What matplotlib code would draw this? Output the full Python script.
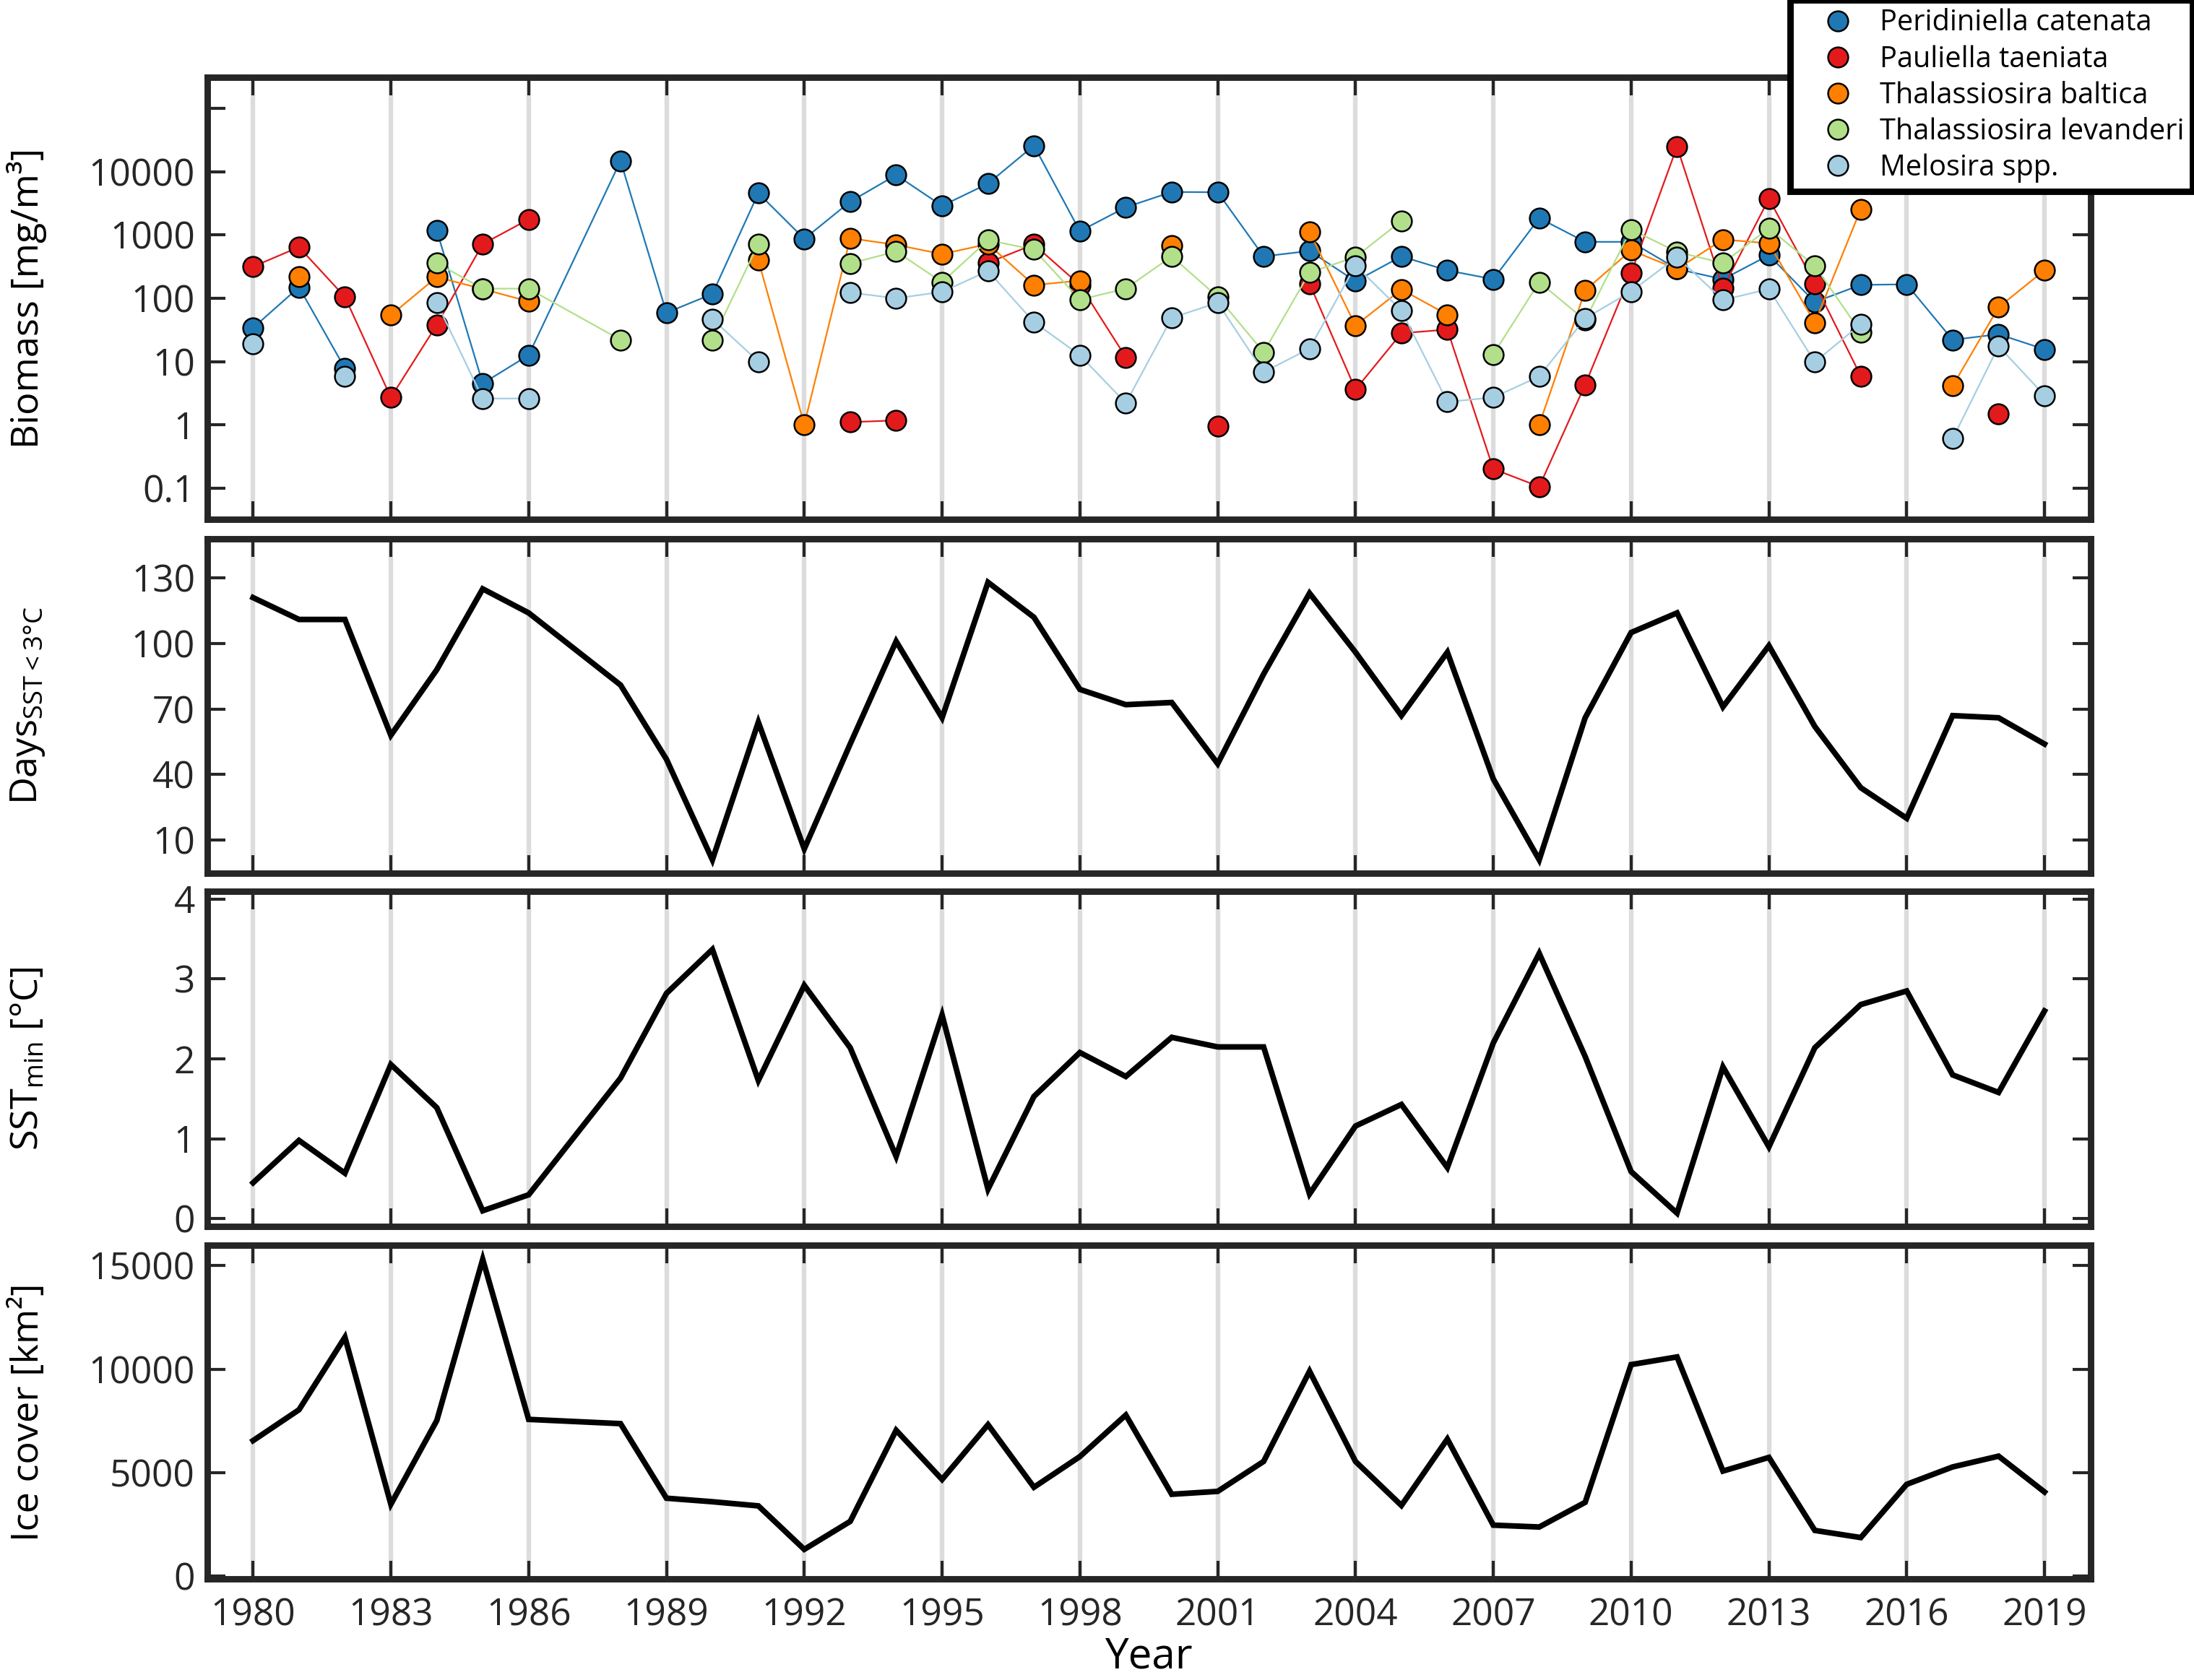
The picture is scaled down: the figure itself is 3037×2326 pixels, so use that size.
import numpy as np
import matplotlib
matplotlib.use("Agg")
import matplotlib.pyplot as plt
from matplotlib.lines import Line2D
from matplotlib.ticker import FixedLocator, FixedFormatter, NullLocator

plt.rcParams["font.family"] = ["Open Sans", "DejaVu Sans"]
plt.rcParams["mathtext.default"] = "regular"

nan = np.nan

# 1987 is absent from the record
years = [1980, 1981, 1982, 1983, 1984, 1985, 1986, 1988, 1989, 1990,
         1991, 1992, 1993, 1994, 1995, 1996, 1997, 1998, 1999, 2000,
         2001, 2002, 2003, 2004, 2005, 2006, 2007, 2008, 2009, 2010,
         2011, 2012, 2013, 2014, 2015, 2016, 2017, 2018, 2019]

# biomass [mg/m3]
peridiniella = [34, 150, 7.8, nan, 1180, 4.5, 12.6, 14900, 59, 117,
                4600, 870, 3370, 8900, 2900, 6500, 26000, 1150, 2750, 4800,
                4750, 460, 560, 186, 460, 276, 200, 1850, 780, 780,
                290, 200, 480, 87, 163, 166, 22, 27, 15.6]
pauliella = [316, 645, 105, 2.7, 38, 720, 1770, nan, nan, nan,
             nan, nan, 1.1, 1.17, nan, 365, 710, 162, 11.7, nan,
             0.96, nan, 170, 3.6, 28, 32, 0.2, 0.105, 4.3, 250,
             25000, 145, 3750, 170, 5.9, nan, nan, 1.5, nan]
th_baltica = [nan, 217, nan, 54, 217, 140, 89, nan, nan, nan,
              400, 1.0, 890, 700, 500, 720, 162, 190, nan, 680,
              nan, nan, 1120, 37, 138, 55, nan, 1.0, 133, 575,
              290, 850, 740, 41, 2570, nan, 4.1, 72, 277]
th_levanderi = [nan, nan, nan, nan, 360, 142, 142, 22, nan, 22,
                720, nan, 355, 550, 180, 830, 590, 95, 142, 460,
                105, 14, 255, 450, 1670, nan, 13, 180, 45, 1230,
                540, 360, 1280, 325, 29, nan, nan, nan, nan]
melosira = [19, nan, 5.8, nan, 85, 2.6, 2.6, nan, nan, 47,
            10, nan, 123, 100, 126, 270, 42, 12.6, 2.2, 49,
            85, 6.8, 16, 330, 64, 2.3, 2.7, 5.8, 48, 128,
            450, 94, 140, 9.8, 39, nan, 0.6, 17.5, 2.9]

days_below3 = [121, 111, 111, 58, 88, 125, 114, 81, 47, 1,
               64, 6, 54, 101, 66, 128, 112, 79, 72, 73,
               45, 86, 123, 96, 67, 96, 38, 1, 66, 105,
               114, 71, 99, 62, 34, 20, 67, 66, 54]
sst_min = [0.45, 0.98, 0.57, 1.93, 1.39, 0.10, 0.30, 1.76, 2.82, 3.37,
           1.73, 2.92, 2.14, 0.78, 2.55, 0.37, 1.53, 2.08, 1.78, 2.27,
           2.15, 2.15, 0.31, 1.16, 1.43, 0.64, 2.20, 3.32, 2.03, 0.59,
           0.07, 1.90, 0.90, 2.14, 2.68, 2.85, 1.80, 1.58, 2.60]
ice_cover = [6550, 8040, 11540, 3480, 7520, 15300, 7575, 7370, 3770, 3600,
             3400, 1300, 2650, 7050, 4675, 7320, 4300, 5780, 7785, 3960,
             4100, 5545, 9900, 5545, 3420, 6625, 2470, 2380, 3570, 10220,
             10590, 5080, 5740, 2215, 1870, 4440, 5280, 5800, 4070]

species = ["Peridiniella catenata", "Pauliella taeniata", "Thalassiosira baltica",
           "Thalassiosira levanderi", "Melosira spp."]
colors = ["#1f78b4", "#e31a1c", "#ff7f00", "#b2df8a", "#a6cee3"]
biomass = [peridiniella, pauliella, th_baltica, th_levanderi, melosira]

xticks = list(range(1980, 2020, 3))
spine_c = "#262626"

fig = plt.figure(figsize=(3037 / 200, 2326 / 200), dpi=200)
left, width = 0.0944, 0.8584
ax1 = fig.add_axes([left, 0.6911, width, 0.2631])
ax2 = fig.add_axes([left, 0.4804, width, 0.1990])
ax3 = fig.add_axes([left, 0.2698, width, 0.1998])
ax4 = fig.add_axes([left, 0.0600, width, 0.1990])
axes = [ax1, ax2, ax3, ax4]

for name, col, vals in zip(species, colors, biomass):
    ax1.plot(years, vals, "-o", color=col, lw=0.8, ms=10,
             mfc=col, mec="black", mew=0.9)
ax1.set_yscale("log")
ax1.set_ylim(10 ** -1.49, 10 ** 5.5)
ax1.yaxis.set_major_locator(FixedLocator([0.1, 1, 10, 100, 1000, 10000, 100000]))
ax1.yaxis.set_major_formatter(FixedFormatter(["0.1", "1", "10", "100", "1000", "10000", ""]))
ax1.yaxis.set_minor_locator(NullLocator())
ax1.set_ylabel("Biomass [mg/m³]")

ax2.plot(years, days_below3, color="black", lw=2.8, solid_joinstyle="miter")
ax2.set_ylim(-5, 148)
ax2.set_yticks([10, 40, 70, 100, 130])
ax2.set_ylabel("Days$_{SST<3°C}$")

ax3.plot(years, sst_min, color="black", lw=2.8, solid_joinstyle="miter")
ax3.set_ylim(-0.1, 4.1)
ax3.set_yticks([0, 1, 2, 3, 4])
ax3.set_ylabel("SST$_{min}$ [°C]")

ax4.plot(years, ice_cover, color="black", lw=2.8, solid_joinstyle="miter")
ax4.set_ylim(-140, 16000)
ax4.set_yticks([0, 5000, 10000, 15000])
ax4.set_ylabel("Ice cover [km²]")

for ax in axes:
    ax.set_xlim(1979, 2020)
    ax.set_xticks(xticks)
    ax.grid(axis="x", color="#dcdcdc", lw=2.3)
    ax.set_axisbelow(True)
    for s in ax.spines.values():
        s.set_linewidth(3.2)
        s.set_color(spine_c)
    ax.tick_params(direction="in", top=True, right=True, length=9, width=1.5,
                   color=spine_c, labelcolor=spine_c, labelsize=18.5)
    ax.tick_params(axis="x", pad=9)
    ax.tick_params(axis="y", pad=6)
    ax.yaxis.label.set_fontsize(18.8)
    ax.yaxis.set_label_coords(-0.085, 0.5)
    if ax is not ax4:
        ax.tick_params(labelbottom=False)

ax4.set_xticklabels([str(y) for y in xticks])
ax4.set_xlabel("Year", fontsize=21, labelpad=1)

handles = [Line2D([], [], ls="none", marker="o", ms=10, mfc=c, mec="black", mew=0.9)
           for c in colors]
leg = fig.legend(handles, species, loc="upper right", bbox_to_anchor=(0.9995, 1.0),
                 fontsize=14.3, frameon=True, fancybox=False, framealpha=1,
                 edgecolor="black", borderaxespad=0, borderpad=0.3,
                 handlelength=2.7, handletextpad=0.12, labelspacing=0.245)
leg.get_frame().set_linewidth(3.2)

fig.savefig("out.png", dpi=200)
